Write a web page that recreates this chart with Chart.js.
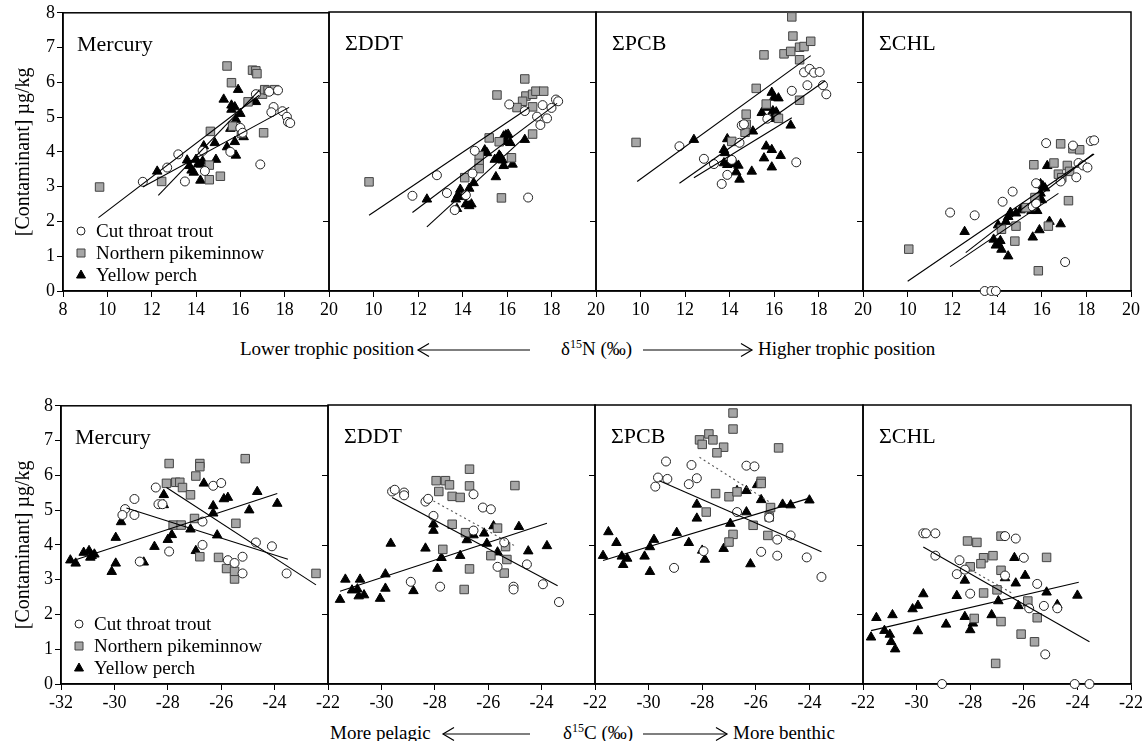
<!DOCTYPE html>
<html>
<head>
<meta charset="utf-8">
<script src="https://cdn.jsdelivr.net/npm/chart.js@4/dist/chart.umd.min.js"></script>
<style>
  body { margin: 0; width: 1148px; height: 741px; overflow: hidden; background: #fff; position: relative;
         font-family: "Liberation Serif", "DejaVu Serif", serif; }
  canvas { position: absolute; }
  .cap { position: absolute; font-size: 19px; line-height: 22px; white-space: nowrap; color: #000; }
  .cap sup { font-size: 12px; vertical-align: 7px; line-height: 0; }
  svg.arr { position: absolute; overflow: visible; }
</style>
</head>
<body>
<div class="cap" style="left:240px;top:338px">Lower trophic position</div>
<div class="cap" style="left:561px;top:338px">&delta;<sup>15</sup>N (&permil;)</div>
<div class="cap" style="left:758px;top:338px">Higher trophic position</div>
<div class="cap" style="left:330px;top:722px">More pelagic</div>
<div class="cap" style="left:563px;top:722px">&delta;<sup>15</sup>C (&permil;)</div>
<div class="cap" style="left:733px;top:722px">More benthic</div>

<script>
// species order: trout, pikeminnow, perch
const speciesNames = ['Cut throat trout', 'Northern pikeminnow', 'Yellow perch'];
const panelTitles = ['Mercury', '\u03A3DDT', '\u03A3PCB', '\u03A3CHL'];
const nTicks = [8, 10, 12, 14, 16, 18, 20];
const cTicks = [-32, -30, -28, -26, -24, -22];
const yTicks = [0, 1, 2, 3, 4, 5, 6, 7, 8];

// ---- delta15N row ----
const hgN_trout = [[11.6,3.14],[12.7,3.55],[13.2,3.93],[13.5,3.15],[14.3,4.03],[14.4,3.45],[15.55,4.0],[16.0,4.69],[16.1,4.55],[16.7,5.66],[16.9,3.64],[17.3,5.73],[17.7,5.77],[17.5,5.29],[17.4,5.14],[17.9,5.17],[18.1,5.01],[18.15,4.86],[18.25,4.83]];
const hgN_pike = [[9.65,2.99],[15.4,6.47],[15.6,5.99],[16.55,6.35],[16.7,6.33],[16.75,6.25],[16.35,5.44],[17.0,5.66],[17.1,5.79],[17.25,5.77],[17.55,5.79],[14.65,4.59],[15.65,4.74],[16.05,4.53],[17.05,4.55],[14.6,3.62],[15.1,3.3],[14.6,3.2],[12.45,3.15]];
const hgN_perch = [[12.25,3.44],[13.6,3.76],[13.7,3.6],[13.8,3.47],[13.9,3.41],[14.0,3.78],[14.1,3.66],[14.2,3.64],[14.3,3.73],[14.35,4.17],[14.2,3.18],[14.85,4.26],[14.9,3.78],[15.25,5.51],[15.4,4.14],[15.55,4.67],[15.6,5.34],[15.6,5.22],[15.75,5.29],[15.8,4.93],[15.75,4.29],[15.8,3.9],[15.9,5.79],[16.0,5.1],[16.15,4.43],[16.7,5.44]];
const hgN_fits = [[11.6,2.99,18.2,5.28],[9.6,2.11,16.85,5.63],[12.3,2.75,16.85,5.77]];

const ddtN_trout = [[11.75,2.73],[12.85,3.32],[13.3,2.81],[13.65,2.32],[14.15,2.75],[14.45,3.37],[14.55,4.02],[16.1,5.35],[16.8,5.16],[16.95,2.68],[17.6,5.33],[17.35,5.0],[17.5,4.76],[17.8,4.95],[18.0,5.25],[18.2,5.49],[18.3,5.44]];
const ddtN_pike = [[9.8,3.13],[16.8,6.08],[15.55,5.62],[16.85,5.59],[16.7,5.44],[16.45,5.26],[17.15,5.28],[17.15,5.64],[17.3,5.73],[17.65,5.73],[15.2,4.39],[15.65,4.28],[17.15,4.5],[14.75,3.88],[14.75,3.66],[14.75,3.51],[14.1,3.25],[16.2,3.82],[15.75,2.67]];
const ddtN_perch = [[12.4,2.63],[13.75,2.36],[13.7,2.63],[13.8,2.75],[13.9,2.91],[14.0,2.7],[14.15,2.49],[14.3,2.44],[14.4,2.49],[14.3,2.94],[14.5,3.1],[15.0,4.04],[15.1,3.96],[15.45,3.77],[15.5,3.27],[15.65,3.89],[15.7,3.85],[15.8,3.75],[15.85,3.59],[15.85,4.44],[15.95,4.47],[16.05,4.49],[15.95,4.28],[16.15,4.25],[16.25,3.63],[16.8,4.34]];
const ddtN_fits = [[11.75,2.25,18.25,5.38],[9.8,2.17,17.0,5.26],[12.4,1.84,16.85,4.44]];

const pcbN_trout = [[11.75,4.15],[12.85,3.79],[13.3,3.64],[13.65,3.07],[13.9,3.33],[14.1,3.76],[14.45,4.25],[14.55,4.75],[14.65,4.78],[15.7,4.94],[16.8,5.74],[17.0,3.69],[17.35,6.27],[17.6,6.37],[17.8,6.26],[18.05,6.28],[17.5,5.9],[18.2,5.9],[18.35,5.64]];
const pcbN_pike = [[9.8,4.26],[16.8,7.86],[16.85,7.31],[15.55,6.77],[16.45,6.8],[16.75,6.87],[17.15,6.99],[17.35,7.01],[17.65,7.16],[17.15,6.63],[15.2,5.81],[17.15,5.47],[15.65,5.36],[14.75,5.07],[14.75,4.78],[14.7,4.55],[14.1,4.29],[16.2,4.95]];
const pcbN_perch = [[12.4,4.34],[13.9,4.36],[13.75,4.05],[13.8,3.96],[13.75,3.67],[13.9,3.62],[14.0,3.65],[14.1,3.69],[14.25,3.65],[14.4,3.6],[14.3,3.41],[14.45,3.2],[15.0,3.43],[15.05,4.58],[15.45,5.11],[15.7,5.26],[15.9,5.69],[16.0,5.55],[16.2,5.53],[15.95,5.16],[16.1,5.13],[15.9,4.94],[15.65,4.15],[15.9,4.05],[15.55,3.81],[15.9,3.55],[16.3,3.88],[16.75,4.75]];
const pcbN_fits = [[11.75,3.09,18.3,6.03],[9.85,3.14,17.65,6.75],[12.4,3.25,16.8,4.97]];

const chlN_trout = [[11.9,2.25],[13.0,2.17],[14.25,2.56],[14.7,2.85],[13.45,0],[13.75,0],[13.95,0],[16.2,4.24],[15.75,3.09],[16.85,3.14],[17.05,0.83],[17.4,4.17],[17.65,3.67],[17.55,3.26],[17.85,3.6],[18.05,3.54],[18.2,4.3],[18.35,4.32],[15.6,2.42],[15.75,2.51]];
const chlN_pike = [[10.05,1.2],[16.85,4.22],[17.4,4.08],[17.7,4.05],[15.65,3.62],[16.55,3.67],[17.15,3.6],[16.75,3.35],[16.9,3.25],[17.25,3.43],[17.2,2.59],[15.7,2.68],[15.3,2.39],[14.2,1.77],[14.85,1.86],[14.8,1.43],[16.3,1.86],[15.85,0.58]];
const chlN_perch = [[12.55,1.7],[14.05,1.89],[13.85,1.48],[13.95,1.31],[14.05,1.36],[14.15,1.44],[14.2,1.19],[14.5,1.0],[14.4,1.99],[14.5,2.13],[14.6,2.25],[14.85,2.23],[15.05,2.32],[15.15,2.37],[15.55,2.3],[15.65,2.32],[15.8,2.3],[15.6,1.54],[15.9,1.75],[15.9,2.61],[16.0,2.61],[15.95,3.07],[16.05,3.01],[16.15,2.95],[15.95,2.8],[16.25,3.59],[16.35,1.99],[16.85,1.92]];
const chlN_fits = [[12.6,1.1,18.3,3.93],[10.0,0.28,18.35,3.93],[11.9,0.7,16.75,2.8]];

// ---- delta13C row ----
const hgC_trout = [[-29.6,5.03],[-29.7,4.86],[-29.25,5.32],[-29.25,4.86],[-29.05,3.52],[-28.45,5.65],[-28.35,5.17],[-28.2,5.17],[-27.95,3.81],[-26.7,4.0],[-26.7,4.67],[-26.3,5.7],[-26.0,5.78],[-25.75,3.56],[-25.5,3.48],[-25.2,3.66],[-25.2,3.18],[-24.7,4.07],[-24.1,3.96],[-23.55,3.18]];
const hgC_pike = [[-27.95,6.34],[-28.05,5.77],[-27.7,5.8],[-27.55,5.8],[-27.45,5.65],[-27.15,5.44],[-26.95,5.98],[-26.8,6.34],[-26.8,6.25],[-27.8,4.57],[-27.5,4.57],[-27.0,4.76],[-26.8,3.66],[-26.1,3.64],[-25.8,3.32],[-25.5,3.02],[-25.5,3.24],[-25.45,4.62],[-25.1,6.48],[-22.45,3.18]];
const hgC_perch = [[-31.65,3.56],[-31.45,3.47],[-31.15,3.78],[-30.95,3.83],[-30.9,3.64],[-30.85,3.69],[-30.75,3.73],[-30.1,3.23],[-29.95,3.47],[-29.95,4.21],[-29.75,4.66],[-28.9,3.5],[-28.5,3.95],[-28.15,5.44],[-28.15,5.15],[-28.0,4.15],[-27.85,4.29],[-27.15,4.45],[-26.95,3.83],[-26.65,5.77],[-26.3,5.12],[-26.3,4.91],[-26.15,4.28],[-25.9,5.32],[-25.75,5.36],[-24.95,5.0],[-24.65,5.53],[-23.9,5.19]];
const hgC_fits = [[-29.55,5.06,-23.5,3.59],[-28.05,5.65,-22.45,2.85],[-31.65,3.52,-23.9,5.48]];

const ddtC_trout = [[-29.6,5.52],[-29.5,5.57],[-29.15,5.49],[-29.15,5.41],[-28.35,5.23],[-28.25,5.31],[-28.05,4.82],[-28.9,2.93],[-27.8,2.79],[-26.55,5.44],[-26.55,4.4],[-26.2,5.06],[-25.9,5.01],[-25.4,4.06],[-25.65,3.36],[-25.05,2.79],[-25.05,2.71],[-24.55,3.43],[-23.95,2.86],[-23.35,2.35]];
const ddtC_pike = [[-26.7,6.16],[-27.95,5.83],[-27.6,5.83],[-27.85,5.52],[-27.45,5.71],[-27.35,5.38],[-27.05,5.35],[-26.7,5.68],[-25.0,5.69],[-27.35,4.58],[-26.85,4.34],[-27.7,3.86],[-25.65,4.47],[-25.35,3.94],[-25.9,3.68],[-25.3,3.57],[-25.4,3.18],[-26.7,3.3],[-26.9,2.71]];
const ddtC_perch = [[-31.55,2.42],[-31.35,3.0],[-31.1,2.69],[-30.9,2.72],[-30.8,3.0],[-30.85,2.52],[-30.65,2.55],[-30.05,2.45],[-29.85,3.15],[-29.85,2.74],[-29.65,4.03],[-28.8,2.67],[-28.35,3.89],[-28.05,4.58],[-28.05,4.4],[-27.9,3.31],[-27.75,3.62],[-27.05,3.68],[-26.8,4.13],[-26.55,4.27],[-26.15,4.32],[-26.05,4.03],[-25.8,4.53],[-25.65,3.78],[-24.85,4.51],[-24.5,3.81],[-23.8,3.96]];
const ddtC_fits = [[-29.6,5.35,-23.4,2.82],[-28.05,5.25,-24.95,3.94],[-31.55,2.66,-23.8,4.61]];

const pcbC_trout = [[-29.75,5.66],[-29.65,5.92],[-29.3,5.88],[-29.35,6.38],[-28.5,5.73],[-28.4,6.28],[-28.2,5.9],[-27.95,3.81],[-29.05,3.33],[-26.7,4.93],[-26.35,6.26],[-26.05,6.24],[-25.5,4.77],[-25.8,3.79],[-25.2,4.14],[-25.2,3.68],[-24.7,4.26],[-24.1,3.63],[-23.55,3.07]];
const pcbC_pike = [[-26.85,7.77],[-26.85,7.31],[-28.1,7.0],[-28.0,6.87],[-27.75,7.17],[-27.6,7.0],[-27.2,6.79],[-27.45,6.63],[-25.15,6.77],[-25.8,5.81],[-25.8,5.75],[-27.5,5.46],[-27.0,5.37],[-26.7,5.51],[-25.45,5.06],[-27.85,4.93],[-25.5,4.79],[-26.1,4.55],[-26.85,4.29],[-25.55,4.26],[-27.0,4.07]];
const pcbC_perch = [[-31.7,3.68],[-31.5,4.36],[-31.2,4.05],[-31.0,3.66],[-30.95,3.42],[-30.8,3.6],[-30.15,3.66],[-29.95,3.93],[-29.95,3.22],[-29.8,4.14],[-28.95,4.34],[-28.5,4.05],[-28.2,5.15],[-28.2,4.75],[-28.0,3.83],[-27.9,3.57],[-27.2,3.88],[-26.95,4.6],[-26.7,5.54],[-26.35,5.54],[-26.35,4.93],[-26.2,3.44],[-25.95,5.71],[-25.8,5.28],[-25.0,5.15],[-24.7,5.13],[-24.0,5.27]];
const pcbC_fits = [[-29.6,5.83,-23.55,3.79],[-28.1,6.5,-25.45,5.2],[-31.7,3.54,-24.0,5.33]];

const chlC_trout = [[-29.75,4.32],[-29.65,4.32],[-29.3,4.32],[-29.3,3.68],[-28.4,3.55],[-28.5,3.15],[-28.2,3.28],[-28.0,2.59],[-29.05,0],[-26.7,4.24],[-26.3,4.17],[-26.7,3.11],[-26.0,3.62],[-25.5,2.87],[-25.8,2.17],[-25.25,2.24],[-24.75,2.17],[-25.2,0.85],[-24.1,0],[-23.55,0]];
const chlC_pike = [[-26.85,4.24],[-28.1,4.1],[-27.75,4.06],[-27.5,3.62],[-27.15,3.68],[-27.6,3.45],[-28.0,3.36],[-25.15,3.63],[-26.85,3.26],[-27.0,2.7],[-27.5,2.61],[-25.85,2.38],[-27.85,1.88],[-26.85,1.79],[-26.1,1.43],[-25.5,1.9],[-25.6,1.21],[-27.05,0.59]];
const chlC_perch = [[-31.7,1.34],[-31.5,1.9],[-31.2,1.53],[-31.0,1.42],[-30.95,1.21],[-30.8,1.0],[-30.9,1.98],[-30.15,2.15],[-29.95,2.25],[-29.75,2.58],[-29.95,1.52],[-28.9,1.71],[-28.5,2.53],[-28.2,2.97],[-28.2,1.93],[-28.0,1.55],[-27.9,1.74],[-27.2,1.98],[-26.95,2.38],[-26.7,3.04],[-26.35,3.62],[-26.3,2.89],[-26.2,2.24],[-25.95,3.11],[-25.85,2.32],[-25.15,2.63],[-24.75,2.27],[-24.0,2.54]];
const chlC_fits = [[-29.75,3.93,-23.55,1.21],[-28.0,3.28,-26.45,2.61],[-31.7,1.53,-23.95,2.92]];

// layout of the plot areas (px)
const rowTop = [12, 405];
const plotH = 279;
const colEdges = [[63, 329, 596, 863, 1131], [61, 328, 595, 863, 1131]];

const panels = [
  {row: 0, col: 0, pts: [hgN_trout, hgN_pike, hgN_perch], fits: hgN_fits, dotted: false},
  {row: 0, col: 1, pts: [ddtN_trout, ddtN_pike, ddtN_perch], fits: ddtN_fits, dotted: false},
  {row: 0, col: 2, pts: [pcbN_trout, pcbN_pike, pcbN_perch], fits: pcbN_fits, dotted: false},
  {row: 0, col: 3, pts: [chlN_trout, chlN_pike, chlN_perch], fits: chlN_fits, dotted: false},
  {row: 1, col: 0, pts: [hgC_trout, hgC_pike, hgC_perch], fits: hgC_fits, dotted: false},
  {row: 1, col: 1, pts: [ddtC_trout, ddtC_pike, ddtC_perch], fits: ddtC_fits, dotted: true},
  {row: 1, col: 2, pts: [pcbC_trout, pcbC_pike, pcbC_perch], fits: pcbC_fits, dotted: true},
  {row: 1, col: 3, pts: [chlC_trout, chlC_pike, chlC_perch], fits: chlC_fits, dotted: true},
];

const symStyle = [
  {pointStyle: 'circle', radius: 4.5, bg: '#ffffff', border: '#222222'},
  {pointStyle: 'rect', radius: 6, bg: '#a6a6a6', border: '#444444'},
  {pointStyle: 'triangle', radius: 5.5, bg: '#000000', border: '#000000'},
];
const FONT = '"Liberation Serif", "DejaVu Serif", serif';

function drawSym(ctx, k, x, y) {
  ctx.save();
  ctx.lineWidth = 1;
  ctx.fillStyle = symStyle[k].bg;
  ctx.strokeStyle = symStyle[k].border;
  ctx.beginPath();
  if (k === 0) ctx.arc(x, y, 4, 0, Math.PI * 2);
  else if (k === 1) ctx.rect(x - 4, y - 4, 8, 8);
  else { ctx.moveTo(x, y - 5); ctx.lineTo(x + 4.5, y + 3); ctx.lineTo(x - 4.5, y + 3); ctx.closePath(); }
  ctx.fill(); ctx.stroke();
  ctx.restore();
}

// frame, inner ticks, panel title and legend
const decor = {
  id: 'decor',
  beforeDatasetsDraw(chart, args, o) {
    const {ctx, chartArea: a, scales} = chart;
    ctx.save();
    ctx.strokeStyle = '#000';
    ctx.lineWidth = 1.5;
    ctx.strokeRect(a.left, a.top, a.right - a.left, a.bottom - a.top);
    if (o.col < 3) {
      ctx.lineWidth = 1;
      [2, 4, 6].forEach(v => {
        const y = Math.round(scales.y.getPixelForValue(v)) + 0.5;
        ctx.beginPath(); ctx.moveTo(a.right, y); ctx.lineTo(a.right - 6, y); ctx.stroke();
      });
    }
    ctx.restore();
  },
  afterDraw(chart, args, o) {
    const {ctx, chartArea: a} = chart;
    ctx.save();
    ctx.fillStyle = '#000';
    ctx.font = '22px ' + FONT;
    ctx.textBaseline = 'alphabetic';
    ctx.fillText(panelTitles[o.col], a.left + (o.col === 0 ? 14 : 16), a.top + 38);
    if (o.col === 0) {
      ctx.font = '19px ' + FONT;
      ctx.textBaseline = 'middle';
      speciesNames.forEach((name, k) => {
        const y = a.bottom - 60 + k * 22;
        drawSym(ctx, k, a.left + 18, y);
        ctx.fillStyle = '#000';
        ctx.fillText(name, a.left + 33, y + 1);
      });
    }
    ctx.restore();
  }
};

panels.forEach(p => {
  const edges = colEdges[p.row];
  const plotLeft = edges[p.col], plotRight = edges[p.col + 1];
  const T = 12, B = 42, R = p.col === 3 ? 16 : 20;
  const L = p.col === 0 ? plotLeft : 30;
  const cv = document.createElement('canvas');
  cv.width = L + (plotRight - plotLeft) + R;
  cv.height = T + plotH + B;
  cv.style.left = (plotLeft - L) + 'px';
  cv.style.top = (rowTop[p.row] - T) + 'px';
  document.body.appendChild(cv);

  const xt = p.row === 0 ? nTicks : cTicks;
  const datasets = [];
  p.pts.forEach((arr, k) => {
    const s = symStyle[k];
    datasets.push({
      label: speciesNames[k],
      data: arr.map(d => ({x: d[0], y: d[1]})),
      pointStyle: s.pointStyle, pointRadius: s.radius,
      backgroundColor: s.bg, borderColor: s.border, borderWidth: 1,
      clip: false, order: 2
    });
  });
  p.fits.forEach((f, k) => {
    const dot = p.dotted && k === 1;
    datasets.push({
      type: 'line',
      label: speciesNames[k] + ' fit',
      data: [{x: f[0], y: f[1]}, {x: f[2], y: f[3]}],
      borderColor: dot ? '#555' : '#000', borderWidth: 1.1,
      borderDash: dot ? [2, 3] : [],
      pointRadius: 0, fill: false, order: 1
    });
  });

  new Chart(cv, {
    type: 'scatter',
    data: {datasets},
    options: {
      responsive: false, animation: false, devicePixelRatio: 1,
      layout: {padding: {left: p.col === 0 ? 0 : L, right: R, top: T, bottom: 0}},
      plugins: {legend: {display: false}, tooltip: {enabled: false}, decor: {col: p.col}},
      scales: {
        x: {
          type: 'linear', min: xt[0], max: xt[xt.length - 1],
          afterBuildTicks: s => { s.ticks = xt.map(v => ({value: v})); },
          afterFit: s => { s.height = B; },
          ticks: {
            color: '#000', font: {family: FONT, size: 18}, padding: 2, maxRotation: 0, autoSkip: false,
            callback: (v, i) => (p.col > 0 && i === 0) ? '' : String(v)
          },
          grid: {drawOnChartArea: false, tickLength: 6, color: '#000', lineWidth: 1},
          border: {color: '#000', width: 1.5}
        },
        y: {
          type: 'linear', min: 0, max: 8, display: p.col === 0,
          afterBuildTicks: s => { s.ticks = yTicks.map(v => ({value: v})); },
          afterFit: s => { s.width = p.col === 0 ? L : 0; },
          ticks: {color: '#000', font: {family: FONT, size: 18}, padding: 2},
          grid: {drawOnChartArea: false, tickLength: 6, color: '#000', lineWidth: 1},
          border: {color: '#000', width: 1.5},
          title: {display: true, text: '[Contaminant] \u00B5g/kg', color: '#000',
                  font: {family: FONT, size: 20}, padding: {top: 12, bottom: 0}}
        }
      }
    },
    plugins: [decor]
  });
});

// arrows of the axis captions
function arrow(x0, x1, y, dir) {
  const ns = 'http://www.w3.org/2000/svg';
  const svg = document.createElementNS(ns, 'svg');
  svg.setAttribute('class', 'arr');
  svg.setAttribute('width', x1 - x0);
  svg.setAttribute('height', 16);
  svg.style.left = x0 + 'px';
  svg.style.top = (y - 8) + 'px';
  const w = x1 - x0;
  const hx = dir < 0 ? 0 : w, bx = dir < 0 ? 11 : w - 11;
  svg.innerHTML = `<line x1="0" y1="8" x2="${w}" y2="8" stroke="#000" stroke-width="1.2"/>` +
    `<polyline points="${bx},1.5 ${hx},8 ${bx},14.5" fill="none" stroke="#000" stroke-width="1.2"/>`;
  document.body.appendChild(svg);
}
arrow(418, 530, 350, -1);
arrow(643, 752, 350, 1);
arrow(443, 530, 734, -1);
arrow(643, 727, 734, 1);
</script>
</body>
</html>
